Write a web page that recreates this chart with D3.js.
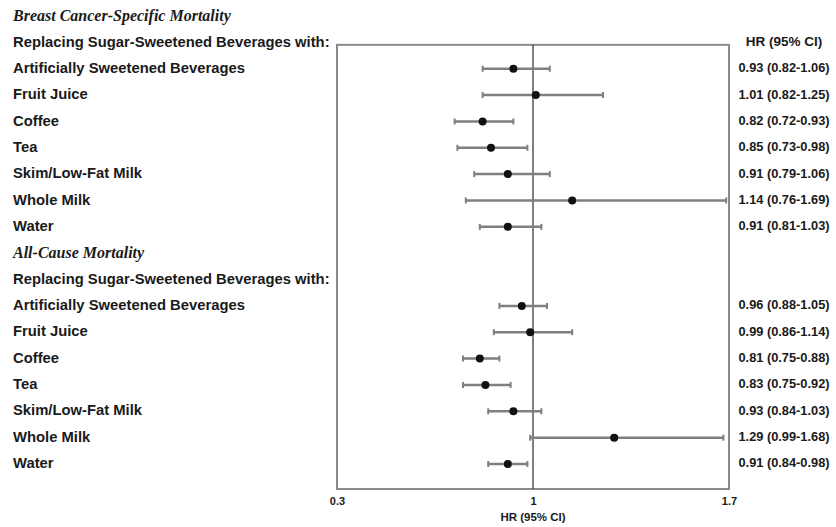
<!DOCTYPE html>
<html>
<head>
<meta charset="utf-8">
<script src="https://cdn.jsdelivr.net/npm/d3@7"></script>
<style>
  body { margin: 0; background: #fff; }
  text { fill: #1a1a1a; }
</style>
</head>
<body>
<div id="chart"></div>
<script>
// data
const beverages = ['Artificially Sweetened Beverages', 'Fruit Juice', 'Coffee', 'Tea', 'Skim/Low-Fat Milk', 'Whole Milk', 'Water'];
const groupTitles = ['Breast Cancer-Specific Mortality', 'All-Cause Mortality'];
const subTitle = 'Replacing Sugar-Sweetened Beverages with:';

const breastHR = [0.93, 1.01, 0.82, 0.85, 0.91, 1.14, 0.91];
const breastLo = [0.82, 0.82, 0.72, 0.73, 0.79, 0.76, 0.81];
const breastHi = [1.06, 1.25, 0.93, 0.98, 1.06, 1.69, 1.03];

const allHR = [0.96, 0.99, 0.81, 0.83, 0.93, 1.29, 0.91];
const allLo = [0.88, 0.86, 0.75, 0.75, 0.84, 0.99, 0.84];
const allHi = [1.05, 1.14, 0.88, 0.92, 1.03, 1.68, 0.98];

const xTicks = [0.3, 1, 1.7];

const width = 836, height = 527;

const svg = d3.select('#chart').append('svg')
    .attr('width', width)
    .attr('height', height);

// build rows: header, subtitle, 7 items, for each group
let rows = [];
let groups = [[breastHR, breastLo, breastHi], [allHR, allLo, allHi]];
groups.forEach((g, gi) => {
    rows.push({ type: 'title', label: groupTitles[gi] });
    rows.push({ type: 'sub', label: subTitle });
    beverages.forEach((b, i) => {
        rows.push({ type: 'item', label: b, hr: g[0][i], lo: g[1][i], hi: g[2][i] });
    });
});

let y = d3.scaleLinear().domain([0, rows.length - 1]).range([15, 463]);
let x = d3.scaleLinear().domain([0.3, 1.7]).range([337, 729]);

let boxTop = y(1) + 3.5, boxBottom = y(rows.length - 1) + 26;

// plot box
svg.append('rect')
    .attr('x', x(0.3))
    .attr('y', boxTop)
    .attr('width', x(1.7) - x(0.3))
    .attr('height', boxBottom - boxTop)
    .attr('fill', 'none')
    .attr('stroke', '#8a8a8a')
    .attr('stroke-width', 2);

// reference line at 1
svg.append('line')
    .attr('x1', x(1)).attr('x2', x(1))
    .attr('y1', boxTop).attr('y2', boxBottom)
    .attr('stroke', '#555')
    .attr('stroke-width', 1.5);

// left labels
svg.selectAll('text.lab')
    .data(rows)
    .enter()
    .append('text')
    .attr('class', 'lab')
    .attr('x', 13)
    .attr('y', (d, i) => y(i))
    .attr('dy', '0.35em')
    .style('font-family', d => d.type == 'title' ? '"Liberation Serif", serif' : '"Liberation Sans", Arial, sans-serif')
    .style('font-style', d => d.type == 'title' ? 'italic' : 'normal')
    .style('font-weight', 'bold')
    .style('font-size', d => d.type == 'title' ? '16px' : '14.8px')
    .text(d => d.label);

// right column
svg.append('text')
    .attr('x', 784)
    .attr('y', y(1))
    .attr('dy', '0.35em')
    .attr('text-anchor', 'middle')
    .style('font-family', '"Liberation Sans", Arial, sans-serif')
    .style('font-weight', 'bold')
    .style('font-size', '13.5px')
    .text('HR (95% CI)');

let items = rows.map((d, i) => Object.assign({ i: i }, d)).filter(d => d.type == 'item');
let f = d3.format('.2f');

svg.selectAll('text.val')
    .data(items)
    .enter()
    .append('text')
    .attr('class', 'val')
    .attr('x', 784)
    .attr('y', d => y(d.i))
    .attr('dy', '0.35em')
    .attr('text-anchor', 'middle')
    .style('font-family', '"Liberation Sans", Arial, sans-serif')
    .style('font-weight', 'bold')
    .style('font-size', '12.8px')
    .text(d => `${f(d.hr)} (${f(d.lo)}-${f(d.hi)})`);

// error bars
let bars = svg.selectAll('g.bar')
    .data(items)
    .enter()
    .append('g')
    .attr('class', 'bar')
    .attr('transform', d => `translate(0, ${y(d.i) + 1})`);

bars.append('line')
    .attr('x1', d => x(d.lo)).attr('x2', d => x(d.hi))
    .attr('stroke', '#7f7f7f').attr('stroke-width', 2.5);

bars.append('line')
    .attr('x1', d => x(d.lo)).attr('x2', d => x(d.lo))
    .attr('y1', -3).attr('y2', 3)
    .attr('stroke', '#7f7f7f').attr('stroke-width', 2);

bars.append('line')
    .attr('x1', d => x(d.hi)).attr('x2', d => x(d.hi))
    .attr('y1', -3).attr('y2', 3)
    .attr('stroke', '#7f7f7f').attr('stroke-width', 2);

bars.append('circle')
    .attr('cx', d => x(d.hr))
    .attr('r', 4)
    .attr('fill', '#111');

// x axis
let xAxis = d3.axisBottom(x).tickValues(xTicks).tickSize(0).tickPadding(8).tickFormat(d => d);
let ax = svg.append('g')
    .attr('transform', `translate(0, ${boxBottom})`)
    .call(xAxis);
ax.select('.domain').remove();
ax.selectAll('text')
    .style('font-family', '"Liberation Sans", Arial, sans-serif')
    .style('font-weight', 'bold')
    .style('font-size', '11px')
    .attr('fill', '#1a1a1a');

svg.append('text')
    .attr('x', x(1))
    .attr('y', 521)
    .attr('text-anchor', 'middle')
    .style('font-family', '"Liberation Sans", Arial, sans-serif')
    .style('font-weight', 'bold')
    .style('font-size', '11.5px')
    .text('HR (95% CI)');
</script>
</body>
</html>
